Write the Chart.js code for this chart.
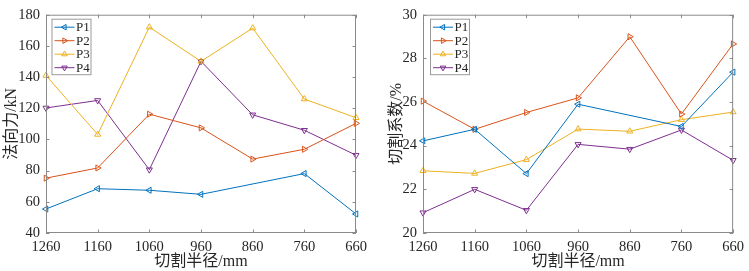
<!DOCTYPE html>
<html>
<head>
<meta charset="utf-8">
<script src="https://cdn.jsdelivr.net/npm/chart.js@4/dist/chart.umd.min.js"></script>
<style>
  html, body { margin: 0; padding: 0; background: #fff; }
  .wrap { display: flex; width: 749px; height: 271px; }
  canvas { display: block; }
</style>
</head>
<body>
<div class="wrap">
  <canvas id="forceChart" width="375" height="271"></canvas>
  <canvas id="coefChart" width="374" height="271"></canvas>
</div>
<script>
// cutting radius, mm
const radii = ['1260', '1160', '1060', '960', '860', '760', '660'];
const seriesNames = ['P1', 'P2', 'P3', 'P4'];

// normal force, kN
const forceP1 = [55.4, 68.4, 67.4, 64.8, null, 78.1, 52.2];
const forceP2 = [75.2, 81.7, 116.2, 107.4, 87.4, 93.7, 110.3];
const forceP3 = [141, 103.2, 172, 150.1, 171.4, 125.9, 113.9];
const forceP4 = [120.2, 125, 80.6, 150.1, 115.8, 105.9, 89.9];

// cutting coefficient, %
const coefP1 = [24.22, 24.75, 22.72, 25.9, null, 24.88, 27.37];
const coefP2 = [26.04, 24.75, 25.52, 26.19, 28.99, 25.45, 28.66];
const coefP3 = [22.85, 22.73, 23.36, 24.76, 24.66, 25.19, 25.54];
const coefP4 = [20.93, 22.0, 21.04, 24.06, 23.84, 24.72, 23.33];

const colors = ['#0072BD', '#D95319', '#EDB120', '#7E2F8E'];
const markerRot = [270, 90, 0, 180];   // < > ^ v
const fontFam = "'Liberation Serif', 'Noto Sans CJK SC', serif";
const axisCol = '#8a8a8a';
const textCol = '#262626';

function tri(ctx, x, y, r, deg) {
    let rad = deg * Math.PI / 180;
    ctx.beginPath();
    ctx.moveTo(x + Math.sin(rad) * r, y - Math.cos(rad) * r);
    rad += 2 * Math.PI / 3;
    ctx.lineTo(x + Math.sin(rad) * r, y - Math.cos(rad) * r);
    rad += 2 * Math.PI / 3;
    ctx.lineTo(x + Math.sin(rad) * r, y - Math.cos(rad) * r);
    ctx.closePath();
    ctx.stroke();
}

// matlab style box, inward ticks on all sides, legend box top-left
const matlabLook = {
    id: 'matlabLook',
    afterDraw(chart, args, o) {
        const ctx = chart.ctx;
        const a = chart.chartArea;
        const xs = chart.scales.x, ys = chart.scales.y;
        const tl = 3.5;
        ctx.save();
        ctx.strokeStyle = axisCol;
        ctx.lineWidth = 1;
        ctx.strokeRect(a.left + 0.5, a.top + 0.5, a.right - a.left - 1, a.bottom - a.top - 1);
        ctx.beginPath();
        xs.ticks.forEach((t, i) => {
            const px = Math.round(xs.getPixelForTick(i)) + 0.5;
            ctx.moveTo(px, a.bottom); ctx.lineTo(px, a.bottom - tl);
            ctx.moveTo(px, a.top); ctx.lineTo(px, a.top + tl);
        });
        ys.ticks.forEach((t, i) => {
            const py = Math.round(ys.getPixelForTick(i)) + 0.5;
            ctx.moveTo(a.left, py); ctx.lineTo(a.left + tl, py);
            ctx.moveTo(a.right, py); ctx.lineTo(a.right - tl, py);
        });
        ctx.stroke();

        // legend
        const lx = a.left + o.dx, ly = a.top + 4;
        const w = 39, rowH = 13.5, h = rowH * 4 + 1.5;
        ctx.fillStyle = '#fff';
        ctx.fillRect(lx, ly, w, h);
        ctx.strokeStyle = '#9a9a9a';
        ctx.strokeRect(lx + 0.5, ly + 0.5, w, h);
        ctx.font = '13px ' + fontFam;
        ctx.textBaseline = 'middle';
        chart.data.datasets.forEach((ds, i) => {
            const cy = ly + 8.5 + i * rowH;
            ctx.strokeStyle = ds.borderColor;
            ctx.beginPath();
            ctx.moveTo(lx + 3, cy); ctx.lineTo(lx + 23, cy);
            ctx.stroke();
            tri(ctx, lx + 13, cy, 3.2, markerRot[i]);
            ctx.fillStyle = textCol;
            ctx.fillText(ds.label, lx + 24.5, cy + 0.5);
        });
        ctx.restore();
    }
};

function makeChart(id, series, yMin, yMax, yStep, yTitle, cfg) {
    new Chart(document.getElementById(id), {
        type: 'line',
        data: {
            labels: radii,
            datasets: series.map((d, i) => ({
                label: seriesNames[i],
                data: d,
                borderColor: colors[i],
                borderWidth: 1,
                pointStyle: 'triangle',
                pointRotation: markerRot[i],
                pointRadius: 3.5,
                pointBorderWidth: 1,
                pointBackgroundColor: 'rgba(0,0,0,0)',
                pointBorderColor: colors[i],
                spanGaps: true,
                tension: 0,
                clip: false
            }))
        },
        options: {
            responsive: false,
            animation: false,
            events: [],
            layout: { padding: cfg.padding },
            scales: {
                x: {
                    offset: false,
                    grid: { display: false, drawTicks: false },
                    border: { display: false },
                    ticks: {
                        color: textCol,
                        padding: 5,
                        maxRotation: 0,
                        autoSkip: false,
                        font: { family: fontFam, size: 14.5 }
                    },
                    title: {
                        display: true,
                        text: '切割半径/mm',
                        color: textCol,
                        padding: { top: 0, bottom: 0 },
                        font: { family: fontFam, size: 16 }
                    },
                    afterFit: (s) => { s.height = 38; }
                },
                y: {
                    min: yMin,
                    max: yMax,
                    grid: { display: false, drawTicks: false },
                    border: { display: false },
                    ticks: {
                        stepSize: yStep,
                        color: textCol,
                        padding: 6,
                        font: { family: fontFam, size: 14.5 }
                    },
                    title: {
                        display: true,
                        text: yTitle,
                        color: textCol,
                        padding: { top: cfg.yTitlePad, bottom: 0 },
                        font: { family: fontFam, size: 16 }
                    },
                    afterFit: (s) => { s.width = cfg.yWidth; }
                }
            },
            plugins: {
                legend: { display: false },
                tooltip: { enabled: false },
                matlabLook: { dx: cfg.legendDx }
            }
        },
        plugins: [matlabLook]
    });
}

makeChart('forceChart', [forceP1, forceP2, forceP3, forceP4], 40, 180, 20, '法向力/kN',
    { padding: { left: 0, top: 11, right: 19, bottom: 0 }, yWidth: 46, yTitlePad: 2.5, legendDx: 5.5 });
makeChart('coefChart', [coefP1, coefP2, coefP3, coefP4], 20, 30, 2, '切割系数/%',
    { padding: { left: 0, top: 10, right: 12, bottom: 0 }, yWidth: 48, yTitlePad: 12, legendDx: 7 });
</script>
</body>
</html>
